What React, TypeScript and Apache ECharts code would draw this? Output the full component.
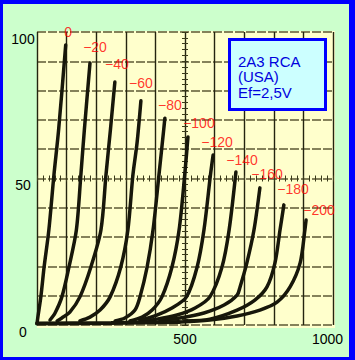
import React, { useEffect, useRef } from "react";
import * as echarts from "echarts";

// Grid-voltage curve names
const gridVoltages = ["0", "−20", "−40", "−60", "−80", "−100", "−120", "−140", "−160", "−180", "−200"];

// Plate curves [plate voltage V, plate current mA]
const curve0 = [[0, 0.5], [3, 2.7], [13, 9.6], [24, 19.8], [40, 32.4], [57, 51], [73, 66.6], [97, 95.6]];
const curve20 = [[44, 1.7], [61, 4.1], [84, 9.6], [108, 19.8], [133, 32.4], [148, 51], [160, 66.6], [179, 89.4]];
const curve40 = [[68, 1.4], [84, 2.4], [111, 4.4], [145, 9.6], [182, 19.8], [216, 32.4], [233, 51.2], [248, 66.6], [263, 82.9]];
const curve60 = [[145, 1.4], [179, 2.7], [213, 5.1], [247, 9.6], [283, 19.8], [307, 32.4], [324, 51.2], [338, 62.1], [351, 76.5]];
const curve80 = [[264, 1.4], [297, 2.4], [331, 5.1], [348, 9.6], [372, 19.8], [392, 32.4], [412, 51.2], [428, 66.6], [432, 70.6]];
const curve100 = [[314, 1.4], [355, 2.7], [389, 5.1], [422, 9.6], [456, 19.8], [480, 32.4], [499, 51.2], [510, 64.2]];
const curve120 = [[348, 1.7], [405, 3.4], [456, 5.8], [505, 9.6], [541, 19.8], [564, 32.4], [586, 51.2], [595, 58]];
const curve140 = [[348, 1.4], [405, 2], [473, 3.4], [534, 5.8], [584, 9.6], [625, 19.8], [649, 32.4], [672, 52.2]];
const curve160 = [[415, 1.7], [483, 2.4], [564, 4.1], [632, 6.8], [676, 10.2], [686, 13], [709, 21.2], [733, 32.4], [753, 46.8]];
const curve180 = [[500, 1.4], [584, 2], [676, 5.1], [736, 8.5], [777, 13], [804, 21.2], [821, 32.4], [834, 41]];
const curve200 = [[483, 1], [584, 1.7], [676, 3.1], [753, 5.1], [811, 7.8], [855, 13], [889, 21.2], [905, 32.4], [909, 35.8]];
const baseline = [[0, 0.5], [250, 0.7], [480, 1.0]];

const curves = [curve0, curve20, curve40, curve60, curve80, curve100, curve120, curve140, curve160, curve180, curve200];

// Curve label anchor points (V, mA)
const labelVolts = [105, 196, 270, 351, 449, 547, 608, 693, 777, 865, 953];
const labelCurrents = [100, 94.9, 89.1, 82.6, 75.1, 68.8, 62.5, 56.3, 51.5, 46.4, 39.4];

// Tick labels
const yTickLabels = [0, 50, 100];
const xTickLabels = [500, 1000];

// Info box
const infoLines = ["2A3 RCA", "(USA)", "Ef=2,5V"];

const FONT = "'Liberation Sans', Arial, sans-serif";
const CURVE_COLOR = "#17170a";

export default function App() {
  const ref = useRef<HTMLDivElement>(null);

  useEffect(() => {
    const chart = echarts.init(ref.current!, null, { renderer: "svg" });

    const curveSeries = curves.map((data, i) => ({
      type: "line",
      name: gridVoltages[i],
      xAxisIndex: 0,
      yAxisIndex: 0,
      data,
      showSymbol: false,
      symbol: "none",
      smooth: 0.3,
      silent: true,
      z: 3,
      lineStyle: { color: CURVE_COLOR, width: 3.5, cap: "round", join: "round" },
    }));

    const option: any = {
      animation: false,
      backgroundColor: "transparent",
      grid: [
        { left: 37, right: 22, top: 32, bottom: 35, containLabel: false },
        { left: 37, right: 22, top: 181.5, height: 0 },
        { left: 182, width: 0, top: 32, bottom: 35 },
      ],
      xAxis: [
        {
          type: "value",
          gridIndex: 0,
          min: 0,
          max: 1000,
          interval: 100,
          axisLine: { show: false },
          axisTick: { show: false },
          axisLabel: {
            show: true,
            showMinLabel: true,
            showMaxLabel: true,
            margin: 7,
            color: "#000",
            fontSize: 14,
            fontFamily: FONT,
            formatter: (v: number) =>
              v === 1000 ? "{r|1000}" : xTickLabels.includes(v) ? String(v) : "",
            rich: {
              r: { padding: [0, 11, 0, 0], color: "#000", fontSize: 14, fontFamily: FONT },
            },
          },
          splitLine: { show: true, lineStyle: { color: "#24240f", width: 1.4 } },
        },
        {
          type: "value",
          gridIndex: 1,
          min: 0,
          max: 1000,
          interval: 20,
          position: "bottom",
          axisLine: { show: false },
          axisTick: { show: true, inside: true, length: 6, lineStyle: { color: "#3a3a1a", width: 1 } },
          axisLabel: { show: false },
          splitLine: { show: false },
        },
        { type: "value", gridIndex: 2, show: false, min: 0, max: 1 },
      ],
      yAxis: [
        {
          type: "value",
          gridIndex: 0,
          min: 0,
          max: 100,
          interval: 10,
          axisLine: { show: false },
          axisTick: { show: false },
          axisLabel: {
            show: true,
            showMinLabel: true,
            showMaxLabel: true,
            margin: 14,
            align: "center",
            verticalAlign: "top",
            lineHeight: 13,
            color: "#000",
            fontSize: 14,
            fontFamily: FONT,
            formatter: (v: number) => (yTickLabels.includes(v) ? String(v) : ""),
          },
          splitLine: { show: true, lineStyle: { color: "#5e5a34", width: 1.6, type: [9, 2] } },
        },
        { type: "value", gridIndex: 1, show: false, min: 0, max: 1 },
        {
          type: "value",
          gridIndex: 2,
          min: 0,
          max: 100,
          interval: 2,
          position: "left",
          axisLine: { show: false },
          axisTick: { show: true, inside: true, length: 6, lineStyle: { color: "#3a3a1a", width: 1 } },
          axisLabel: { show: false },
          splitLine: { show: false },
        },
      ],
      graphic: [
        {
          type: "rect",
          z: -1,
          silent: true,
          shape: { x: 37, y: 31, width: 298, height: 297 },
          style: { fill: "#ffffcc" },
        },
        {
          type: "rect",
          z: 10,
          silent: true,
          shape: { x: 229.5, y: 39.5, width: 96, height: 70 },
          style: { fill: "#ccffff", stroke: "#0000ff", lineWidth: 3 },
        },
        ...infoLines.map((t, i) => ({
          type: "text",
          z: 11,
          silent: true,
          x: 238,
          y: 61 + i * 15.5,
          style: {
            text: t,
            fill: "#0000dd",
            fontSize: 15,
            fontFamily: FONT,
            verticalAlign: "middle",
            align: "left",
          },
        })),
      ],
      series: [
        ...curveSeries,
        {
          type: "line",
          name: "baseline",
          data: baseline,
          showSymbol: false,
          symbol: "none",
          silent: true,
          z: 3,
          lineStyle: { color: CURVE_COLOR, width: 4, cap: "round" },
        },
        {
          type: "scatter",
          name: "labels",
          xAxisIndex: 0,
          yAxisIndex: 0,
          clip: false,
          silent: true,
          symbolSize: 1,
          z: 5,
          itemStyle: { color: "rgba(0,0,0,0)" },
          data: labelVolts.map((v, i) => ({ value: [v, labelCurrents[i]], name: gridVoltages[i] })),
          label: {
            show: true,
            position: "inside",
            formatter: "{b}",
            color: "#ff0000",
            fontSize: 14,
            fontFamily: FONT,
          },
        },
      ],
    };

    chart.setOption(option);
    return () => chart.dispose();
  }, []);

  return (
    <div
      style={{
        position: "absolute",
        left: 0,
        top: 0,
        width: 355,
        height: 360,
        boxSizing: "border-box",
        background: "#ccffcc",
        borderStyle: "solid",
        borderColor: "#0000ff",
        borderWidth: "4px 6px 3px 3px",
      }}
    >
      <div ref={ref} style={{ position: "absolute", left: -3, top: -4, width: 355, height: 360 }} />
    </div>
  );
}
